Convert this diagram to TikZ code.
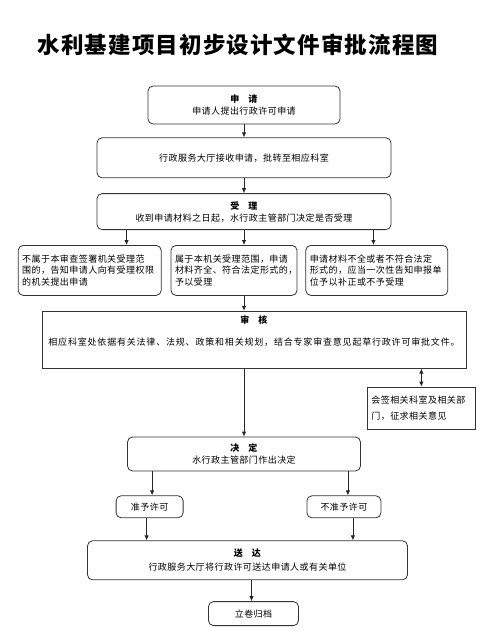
\documentclass[tikz,border=0pt]{standalone}
\usepackage{fontspec}
\setmainfont{Noto Sans CJK SC}[LetterSpace=5]
\newfontfamily\widefont{Noto Sans CJK SC}[LetterSpace=9]
\usetikzlibrary{arrows.meta, calc, positioning}

\begin{document}
\begin{tikzpicture}[
 box/.style={draw=black!80, line width=0.8pt, rounded corners=5pt, align=center, font=\fontsize{9}{12}\selectfont},
 stagebox/.style={box, minimum width=294pt},
 notebox/.style={box, align=left, minimum height=50pt, inner xsep=4pt, font=\fontsize{9}{11.5}\selectfont},
 squarebox/.style={box, rounded corners=0pt},
 smallbox/.style={box, minimum height=22pt},
 arrow/.style={-{Latex[length=5pt,width=4.5pt]}, line width=0.8pt, black!85},
 ]
\useasboundingbox (0,0) rectangle (504pt,-633pt);
\node[font=\fontsize{22.5}{26}\selectfont\bfseries] (title) at (238pt,-45pt) {水利基建项目初步设计文件审批流程图};

\node[box, minimum width=192pt, minimum height=38pt] (apply) at (244pt,-105pt)
 {\textbf{申\quad 请}\\申请人提出行政许可申请};
\node[stagebox, below=13pt of apply, minimum height=40pt] (receive)
 {行政服务大厅接收申请，批转至相应科室};
\node[stagebox, below=15pt of receive, minimum height=36pt] (accept)
 {\textbf{受\quad 理}\\收到申请材料之日起，水行政主管部门决定是否受理};

% three outcomes of acceptance
\node[notebox, text width=118pt, below=15pt of accept, xshift=-10pt] (admit)
 {属于本机关受理范围，申请\\材料齐全、符合法定形式的，\\予以受理};
\node[notebox, text width=135pt, left=9pt of admit] (refuse)
 {不属于本审查签署机关受理范\\围的，告知申请人向有受理权限\\的机关提出申请};
\node[notebox, text width=134pt, right=8pt of admit] (amend)
 {申请材料不全或者不符合法定\\形式的，应当一次性告知申报单\\位予以补正或不予受理};

\node[squarebox, minimum width=424pt, minimum height=57pt, below=15pt of admit, xshift=20pt] (review)
 {\textbf{审\quad 核}\\[10pt]{\widefont 相应科室处依据有关法律、法规、政策和相关规划，结合专家审查意见起草行政许可审批文件。}\\[6pt]\mbox{}};
\node[squarebox, align=left, text width=100pt, inner xsep=4pt, minimum height=42pt,
 font=\fontsize{9}{16}\selectfont, below=18pt of review.south east, xshift=-45pt] (sign)
 {会签相关科室及相关部\\门，征求相关意见};

\coordinate (reviewout) at (review.south -| accept.south);
\node[box, minimum width=233pt, minimum height=34pt, below=68pt of reviewout] (decide)
 {\textbf{决\quad 定}\\水行政主管部门作出决定};

\coordinate (granttap) at ([xshift=25pt]decide.south west);
\coordinate (denytap) at ([xshift=-13pt]decide.south east);
\node[smallbox, minimum width=67pt, below=24pt of granttap, xshift=-2.5pt] (grant) {准予许可};
\node[smallbox, minimum width=74pt, below=24pt of denytap, xshift=-4pt] (deny) {不准予许可};

\node[box, minimum width=320pt, minimum height=39pt, below=69pt of decide, xshift=3.5pt] (deliver)
 {\textbf{送\quad 达}\\[2pt]行政服务大厅将行政许可送达申请人或有关单位};
\node[box, minimum width=90pt, minimum height=24pt, below=21pt of deliver, xshift=6pt] (archive) {立卷归档};

% connectors
\coordinate (lefttap) at ([xshift=30pt]accept.south west);
\coordinate (righttap) at ([xshift=-18pt]accept.south east);
\coordinate (admitout) at (admit.south -| accept.south);
\draw[arrow] (apply) -- (receive);
\draw[arrow] (receive.south) -- (receive.south |- accept.north);
\draw[arrow] (lefttap) -- (lefttap |- refuse.north);
\draw[arrow] (accept.south) -- (accept.south |- admit.north);
\draw[arrow] (righttap) -- (righttap |- amend.north);
\draw[arrow] (admitout) -- (admitout |- review.north);
\draw[arrow, {Latex[length=5pt,width=4.5pt]}-{Latex[length=5pt,width=4.5pt]}] (sign.north) -- (sign.north |- review.south);
\draw[arrow] (reviewout) -- (decide);
\draw[arrow] (granttap) -- (granttap |- grant.north);
\draw[arrow] (denytap) -- (denytap |- deny.north);
\draw[arrow] ([xshift=-3pt]grant.south) -- ([xshift=-3pt]grant.south |- deliver.north);
\draw[arrow] ([xshift=9pt]deny.south) -- ([xshift=9pt]deny.south |- deliver.north);
\draw[arrow] ([xshift=4pt]deliver.south) -- ([xshift=4pt]deliver.south |- archive.north);

\end{tikzpicture}
\end{document}
